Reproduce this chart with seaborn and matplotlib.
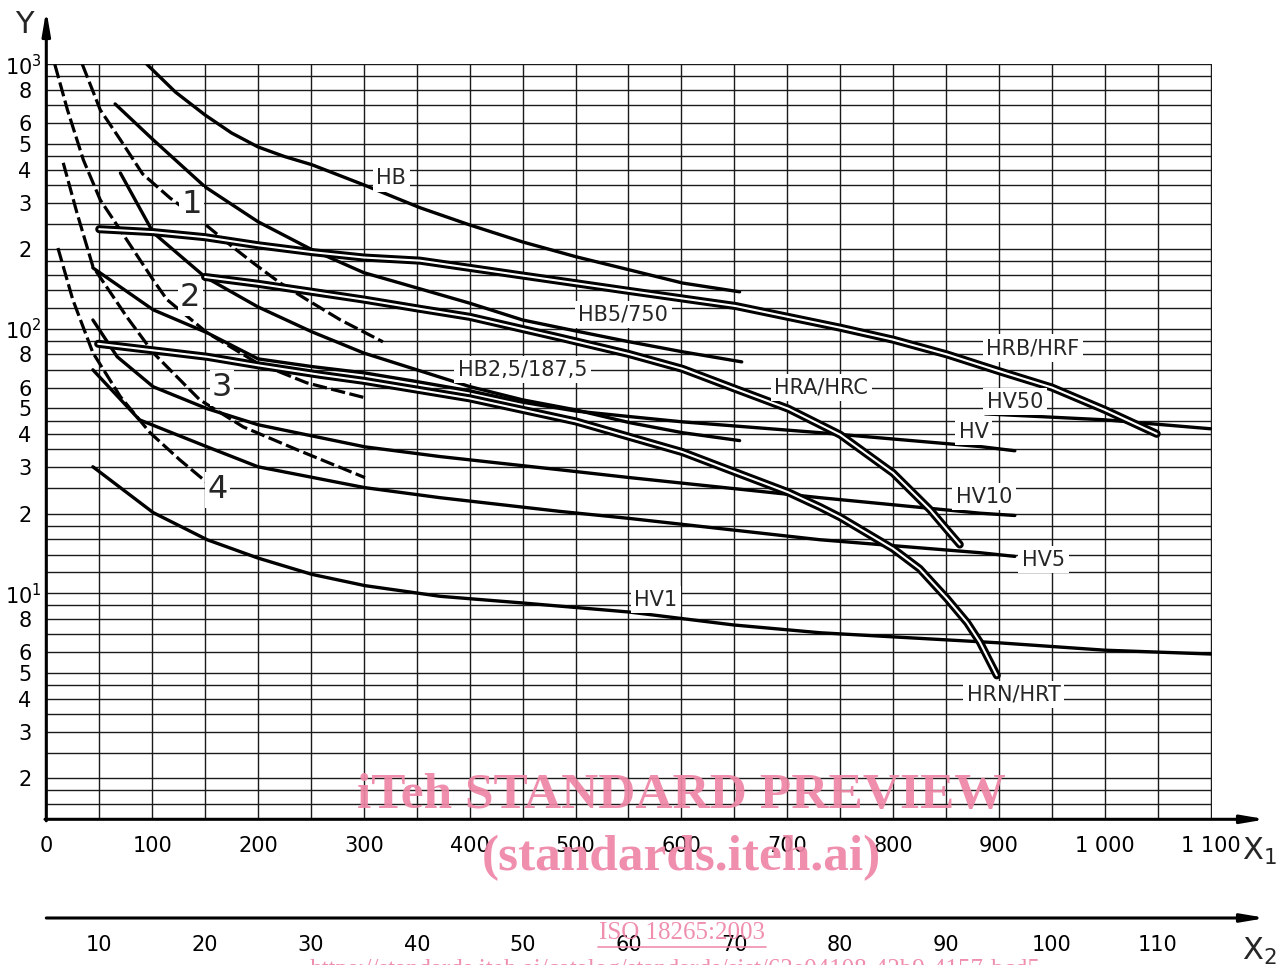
import numpy as np
import pandas as pd
import seaborn as sns
import matplotlib.pyplot as plt
from matplotlib.ticker import NullLocator

# curves: x = X1 value, y = Y value (log axis)
hb_x = [95, 122, 150, 175, 200, 225, 251, 300, 353, 400, 450, 501, 551, 601, 655]
hb_y = [1000, 785, 643, 550, 487, 448, 417, 350, 287, 247, 213, 187, 167, 149, 138]

hb5_x = [65, 101, 150, 200, 251, 300, 334, 400, 450, 501, 551, 601, 657]
hb5_y = [708, 518, 344, 254, 199, 163, 149, 125, 108, 98, 89.3, 81.9, 75.0]

hb25_x = [70, 101, 150, 200, 251, 300, 350, 400, 450, 500, 551, 601, 655]
hb25_y = [388, 231, 157, 121, 97.4, 81.0, 70.0, 60.5, 53.9, 49.4, 44.2, 40.5, 37.8]

hrb_x = [50, 101, 150, 200, 251, 300, 353, 400, 450, 551, 651, 750, 800, 851, 901, 950, 1000, 1049]
hrb_y = [238, 232, 222, 207, 195, 186, 181, 170, 159, 139, 122, 101, 91, 80, 69, 60, 49.4, 40.1]

hra_x = [150, 200, 251, 300, 353, 400, 486, 550, 601, 651, 701, 750, 800, 835, 851, 863]
hra_y = [157, 148, 138, 129, 119, 111, 92.5, 80.4, 70.6, 59.3, 49.9, 39.8, 28.5, 20.7, 17.4, 15.3]

hrn_x = [49, 152, 200, 259, 300, 400, 500, 601, 651, 701, 731, 750, 800, 825, 851, 870, 882, 898]
hrn_y = [87.8, 78.4, 72.8, 67.0, 63.6, 54.6, 44.7, 34.2, 28.7, 24.1, 21.2, 19.4, 14.75, 12.4,
         9.55, 7.75, 6.54, 4.9]

hv_x = [44, 101, 152, 200, 251, 300, 350, 400, 450, 500, 551, 601, 731, 882, 915]
hv_y = [170, 118, 96.6, 77.0, 72.0, 68.2, 63.2, 58.3, 52.8, 48.9, 46.6, 44.5, 40.5, 35.9, 34.6]

hv50_x = [887, 1000, 1049, 1100]
hv50_y = [47.7, 45.3, 43.6, 41.9]

hv10_x = [44, 67, 101, 152, 200, 301, 372, 486, 551, 731, 882, 915]
hv10_y = [108, 78.4, 60.4, 49.9, 43.4, 35.8, 32.9, 29.3, 27.4, 23.0, 20.1, 19.7]

hv5_x = [44, 88, 152, 200, 301, 372, 486, 551, 731, 882, 915]
hv5_y = [70.0, 45.3, 35.8, 30.1, 25.1, 23.0, 20.4, 19.2, 15.95, 14.25, 13.8]

hv1_x = [44, 101, 152, 200, 251, 301, 372, 450, 551, 649, 731, 901, 1000, 1100]
hv1_y = [30.1, 20.2, 15.95, 13.6, 11.8, 10.7, 9.75, 9.2, 8.5, 7.6, 7.1, 6.5, 6.1, 5.9]

# dashed curves 1..4
d1_x = [34, 51, 70, 91, 117, 145, 176, 195, 221, 246, 278, 318]
d1_y = [1000, 672, 518, 385, 312, 258, 204, 178, 149, 129, 108, 89.3]
d2_x = [8, 20, 35, 51, 76, 101, 114, 152, 199, 246, 301]
d2_y = [1000, 672, 435, 307, 217, 153, 129, 96.6, 74.4, 62.5, 54.9]
d3_x = [16, 29, 44, 57, 76, 101, 114, 145, 186, 237, 301]
d3_y = [424, 274, 172, 144, 111, 81.2, 71.9, 53.9, 42.6, 34.9, 27.4]
d4_x = [11, 25, 44, 70, 98, 126, 152]
d4_y = [202, 129, 81.2, 55.4, 40.5, 32.0, 26.2]

single_curves = [(hb_x, hb_y), (hb5_x, hb5_y), (hb25_x, hb25_y), (hv_x, hv_y),
                 (hv50_x, hv50_y), (hv10_x, hv10_y), (hv5_x, hv5_y), (hv1_x, hv1_y)]
double_curves = [(hrb_x, hrb_y), (hra_x, hra_y), (hrn_x, hrn_y)]
dashed_curves = [(d1_x, d1_y), (d2_x, d2_y), (d3_x, d3_y), (d4_x, d4_y)]

# curve labels (text, x, y)
curve_labels = ['HB', 'HB5/750', 'HRB/HRF', 'HB2,5/187,5', 'HRA/HRC', 'HV50',
                'HV', 'HV10', 'HV5', 'HV1', 'HRN/HRT']
curve_label_x = [326, 545, 932, 450, 732, 915, 876, 886, 942, 576, 914]
curve_label_y = [371, 113, 84.6, 70.0, 60.2, 53.1, 40.9, 23.2, 13.4, 9.47, 4.14]
num_labels = ['1', '2', '3', '4']
num_label_x = [137, 136, 166, 162]
num_label_y = [294, 131, 59.8, 24.6]

# axes ticks / grid
grid_mult = [1, 1.2, 1.4, 1.6, 1.8, 2, 2.5, 3, 3.5, 4, 4.5, 5, 6, 7, 8, 9]
y_label_text = {1000: '$10^3$', 800: '8', 600: '6', 500: '5', 400: '4', 300: '3', 200: '2',
                100: '$10^2$', 80: '8', 60: '6', 50: '5', 40: '4', 30: '3', 20: '2',
                10: '$10^1$', 8: '8', 6: '6', 5: '5', 4: '4', 3: '3', 2: '2'}
x1_ticks = list(range(0, 1101, 50))
x1_text = {0: '0', 100: '100', 200: '200', 300: '300', 400: '400', 500: '500', 600: '600',
           700: '700', 800: '800', 900: '900', 1000: '1 000', 1100: '1 100'}
x2_ticks = [10, 20, 30, 40, 50, 60, 70, 80, 90, 100, 110]

sns.set_theme(style='white')
plt.rcParams['font.family'] = ['DejaVu Sans']
plt.rcParams['mathtext.fontset'] = 'dejavusans'

W, H = 1279, 965
fig = plt.figure(figsize=(W / 100, H / 100), dpi=100)
fig.patch.set_facecolor('white')


def fx(px):
    return px / W


def fy(py):
    return 1 - py / H


ax = fig.add_axes([fx(46.3), fy(819.3), fx(1211.5) - fx(46.3), fy(63.8) - fy(819.3)])
ax.set_yscale('log')
ax.set_xlim(0, 1100.8)
ax.set_ylim(1.4, 1004)

for cx, cy in dashed_curves:
    sns.lineplot(x=cx, y=cy, ax=ax, color='black', lw=2.3, estimator=None, sort=False,
                 linestyle=(0, (4.5, 1.4)), zorder=3)
for cx, cy in single_curves:
    sns.lineplot(x=cx, y=cy, ax=ax, color='black', lw=2.4, estimator=None, sort=False, zorder=3)
for cx, cy in double_curves:
    sns.lineplot(x=cx, y=cy, ax=ax, color='black', lw=5.8, estimator=None, sort=False, zorder=4)
    sns.lineplot(x=cx, y=cy, ax=ax, color='white', lw=1.5, estimator=None, sort=False, zorder=4)

# grid
y_grid = [m * 10 ** k for k in (0, 1, 2) for m in grid_mult if m * 10 ** k >= 1.4] + [1000]
ax.set_yticks(y_grid)
ax.set_yticklabels([y_label_text.get(round(v), '') if abs(v - round(v)) < 1e-6 else ''
                    for v in y_grid])
ax.yaxis.set_minor_locator(NullLocator())
ax.set_xticks(x1_ticks)
ax.set_xticklabels([x1_text.get(v, '') for v in x1_ticks])
ax.grid(True, color='#1a1a1a', lw=1.0)
ax.set_axisbelow(True)
ax.tick_params(axis='both', length=0, labelsize=15, colors='black')
ax.tick_params(axis='x', pad=12)
for tick, v in zip(ax.yaxis.get_major_ticks(), y_grid):
    tick.set_pad(3.3 if round(v) in (10, 100, 1000) and abs(v - round(v)) < 1e-6 else 10.5)
for s in ax.spines.values():
    s.set_visible(False)
ax.set_xlabel('')
ax.set_ylabel('')

for t, lx, ly in zip(curve_labels, curve_label_x, curve_label_y):
    ax.text(lx, ly, t, ha='center', va='center', fontsize=15, zorder=6,
            bbox=dict(fc='white', ec='none', pad=2.5))
for t, lx, ly in zip(num_labels, num_label_x, num_label_y):
    ax.text(lx, ly, t, ha='center', va='center', fontsize=23, zorder=6,
            bbox=dict(fc='white', ec='none', pad=1.5))

# second X axis
ax2 = fig.add_axes([fx(46.3), fy(918), fx(1211.5) - fx(46.3), 0.0005])
ax2.set_xlim(0 / 10 + 5, 1100.8 / 10 + 5)
ax2.set_xticks(x2_ticks)
ax2.set_xticklabels([str(v) for v in x2_ticks])
ax2.set_yticks([])
ax2.patch.set_visible(False)
for s in ax2.spines.values():
    s.set_visible(False)
ax2.tick_params(axis='x', direction='in', length=10.8, width=1.5, labelsize=15, pad=12,
                colors='black')

# axis arrows
arrow = dict(arrowstyle='-|>,head_length=1.0,head_width=0.17', mutation_scale=14,
             lw=2.2, color='black', shrinkA=0, shrinkB=0)
ax.annotate('', xy=(fx(46.3), fy(10)), xytext=(fx(46.3), fy(820.8)),
            xycoords='figure fraction', textcoords='figure fraction', arrowprops=arrow)
ax.annotate('', xy=(fx(1266), fy(819.3)), xytext=(fx(45), fy(819.3)),
            xycoords='figure fraction', textcoords='figure fraction', arrowprops=arrow)
ax.annotate('', xy=(fx(1266), fy(918)), xytext=(fx(46.3), fy(918)),
            xycoords='figure fraction', textcoords='figure fraction', arrowprops=arrow)

fig.text(fx(24), fy(33), 'Y', ha='center', va='baseline', fontsize=22)
fig.text(fx(1242), fy(860), r'X$_1$', ha='left', va='baseline', fontsize=22)
fig.text(fx(1242), fy(960), r'X$_2$', ha='left', va='baseline', fontsize=22)

# watermark
pink = '#ee86a6'
wm = dict(color=pink, alpha=0.92, ha='center', va='center', family=['Liberation Serif', 'DejaVu Serif'])
fig.text(fx(681), fy(796), 'iTeh STANDARD PREVIEW', fontsize=37, weight='bold', **wm)
fig.text(fx(681), fy(858), '(standards.iteh.ai)', fontsize=37, weight='bold', **wm)
fig.text(fx(682), fy(933), 'ISO 18265:2003', fontsize=18, **wm)
fig.add_artist(plt.Line2D([fx(598), fx(766)], [fy(947), fy(947)], color=pink, lw=1.2, alpha=0.92))
fig.text(fx(675), fy(970), 'https://standards.iteh.ai/catalog/standards/sist/62e04108-42b9-4157-bcd5',
         fontsize=18, **wm)

fig.savefig('out.png', dpi=100)
